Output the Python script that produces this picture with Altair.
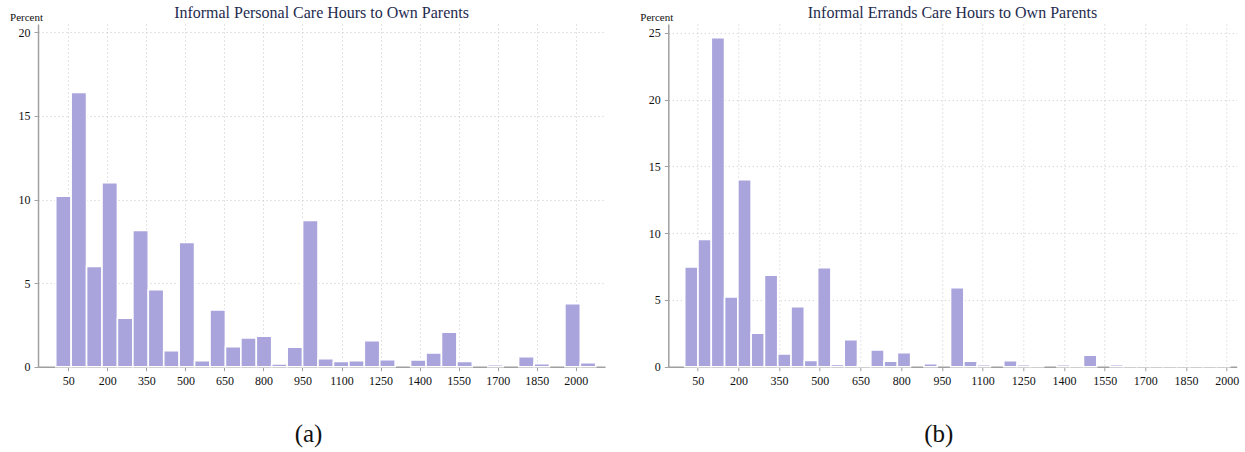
import altair as alt
import pandas as pd

# Percent per histogram bin
left_pct = [10.2, 16.4, 6.0, 11.0, 2.9, 8.15, 4.6, 0.96, 7.43, 0.36, 3.39, 1.2,
            1.72, 1.83, 0.16, 1.16, 8.75, 0.48, 0.32, 0.36, 1.56, 0.42, 0.0, 0.4,
            0.82, 2.07, 0.32, 0.0, 0.12, 0.0, 0.6, 0.18, 0.0, 3.77, 0.24]
right_pct = [7.47, 9.54, 24.64, 5.22, 14.0, 2.5, 6.85, 0.95, 4.5, 0.47, 7.42, 0.17,
             2.03, 0.12, 1.25, 0.42, 1.05, 0.0, 0.22, 0.0, 5.92, 0.42, 0.15, 0.0,
             0.45, 0.15, 0.07, 0.0, 0.15, 0.07, 0.87, 0.0, 0.15, 0.04, 0.04, 0.04,
             0.04, 0.04, 0.04, 0.04, 0.04]

left_bin_start, left_bin_width = 1.6, 59.3
right_bin_start, right_bin_width = 2.0, 49.0

x_ticks = [50, 200, 350, 500, 650, 800, 950, 1100, 1250, 1400, 1550, 1700, 1850, 2000]
left_yticks = [0, 5, 10, 15, 20]
right_yticks = [0, 5, 10, 15, 20, 25]

left_title = "Informal Personal Care Hours to Own Parents"
right_title = "Informal Errands Care Hours to Own Parents"
y_label = "Percent"
captions = ["(a)", "(b)"]

SERIF = "Liberation Serif"
BAR = "#a9a5dc"
AXIS = "#a0a0a0"


def panel(pct, start, width, xdomain, ydomain, yticks, title, caption, w, h):
    df = pd.DataFrame({"lo": [start + i * width for i in range(len(pct))], "pct": pct})
    df["hi"] = df["lo"] + width
    df = df[df["pct"] > 0]
    bars = alt.Chart(df).mark_bar(
        color=BAR, stroke="white", strokeWidth=1.6
    ).encode(
        x=alt.X("lo:Q",
                scale=alt.Scale(domain=xdomain, nice=False, zero=False),
                axis=alt.Axis(values=x_ticks, title=caption, format="d",
                              titleFontSize=25, titleFont=SERIF, titleFontWeight="normal",
                              titleColor="#111", titleX=270, titleY=75,
                              titleAlign="center", titleBaseline="alphabetic",
                              labelPadding=5)),
        x2="hi:Q",
        y=alt.Y("pct:Q",
                scale=alt.Scale(domain=ydomain, nice=False),
                axis=alt.Axis(values=yticks, title=y_label, titleAngle=0,
                              titleX=-12, titleY=-3, titleAlign="center",
                              titleBaseline="alphabetic", titleFontSize=11,
                              titleFont=SERIF, titleFontWeight="normal",
                              titleColor="#111", labelPadding=4)),
        y2=alt.datum(0),
        tooltip=["lo:Q", "pct:Q"],
    )
    head = alt.Chart(pd.DataFrame({"t": [title]})).mark_text(
        font=SERIF, fontSize=16, color="#1f2c50", align="center", baseline="alphabetic"
    ).encode(text="t:N", x=alt.value(w / 2), y=alt.value(-5.7))
    return alt.layer(bars, head).properties(width=w, height=h)


left = panel(left_pct, left_bin_start, left_bin_width, [-66.4, 2112.6], [0, 20.5],
             left_yticks, left_title, captions[0], 567, 342.7)
right = panel(right_pct, right_bin_start, right_bin_width, [-58.4, 2036.7], [0, 25.67],
              right_yticks, right_title, captions[1], 568.4, 342.7)

chart = alt.hconcat(left, right, spacing=63.3, bounds="flush").properties(
    padding={"left": 9, "top": 5, "right": 6, "bottom": 5},
    background="white",
).configure_view(stroke=None).configure_axis(
    labelFont=SERIF, labelFontSize=12, labelColor="#111",
    domainColor=AXIS, domainWidth=1.5, tickColor=AXIS, tickSize=4,
    gridColor="#c8c8c8", gridDash=[1, 3], gridWidth=1,
)

chart.save("out.html", embed_options={"renderer": "svg", "actions": False})
